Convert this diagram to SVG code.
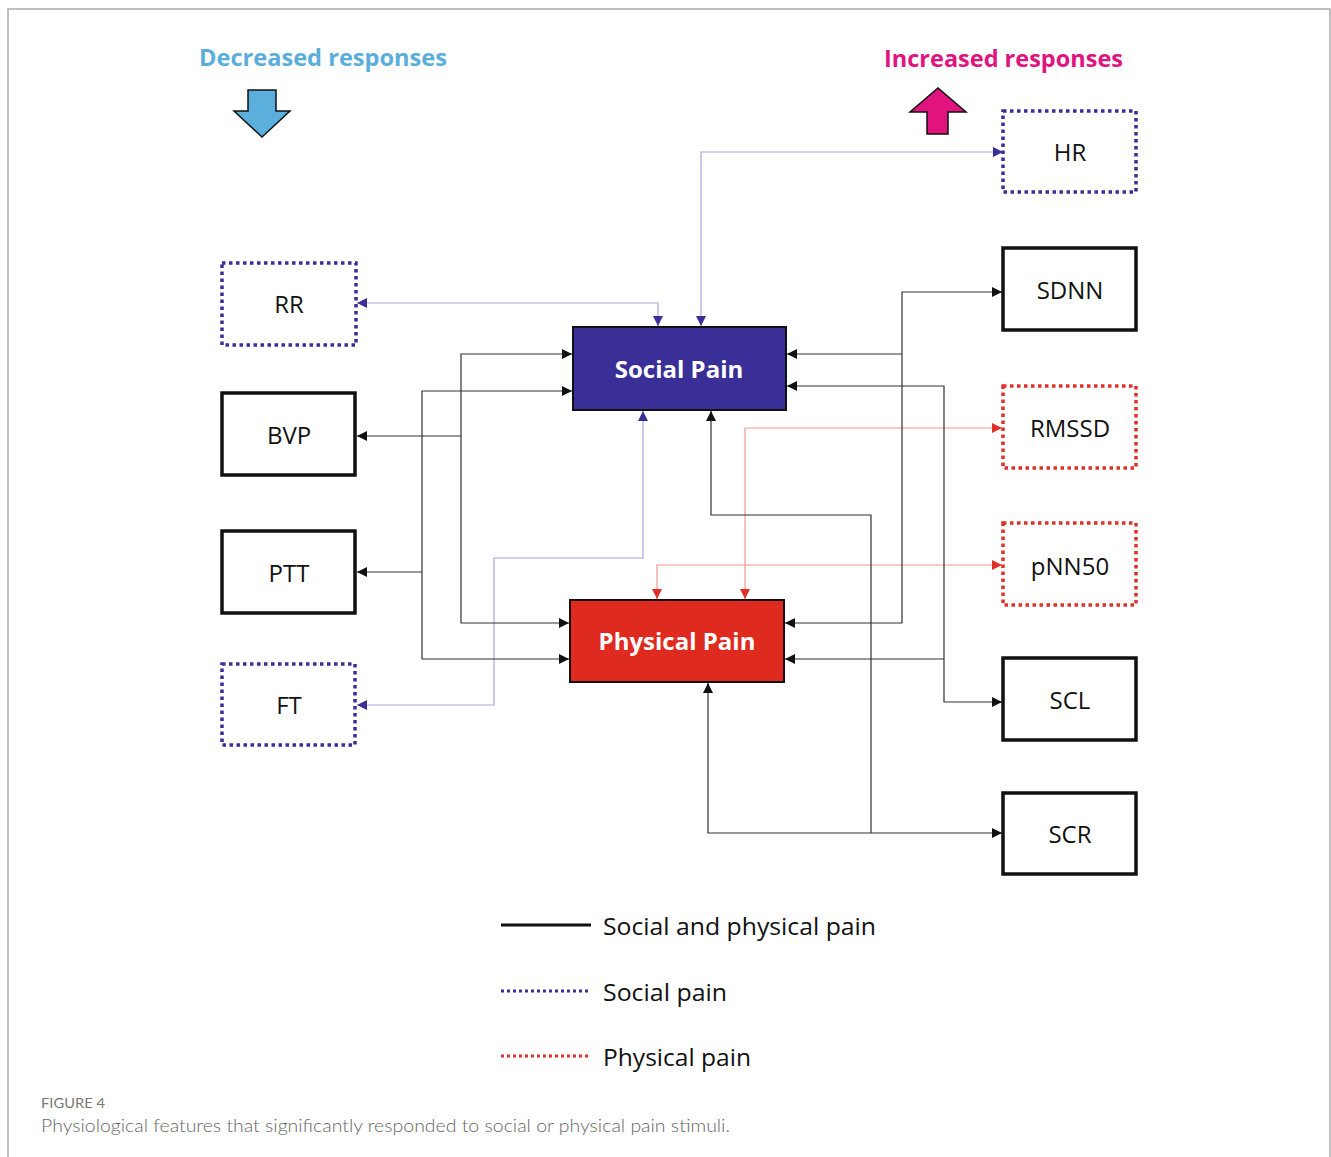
<svg xmlns="http://www.w3.org/2000/svg" width="1331" height="1157" viewBox="0 0 1331 1157">
<style>
.lbl{font-family:"Open Sans","Noto Sans",sans-serif;font-size:24px;fill:#111;text-anchor:middle}
.hub{font-family:"Open Sans","Noto Sans",sans-serif;font-size:24px;font-weight:bold;fill:#fff;text-anchor:middle}
.solid{fill:#fff;stroke:#111;stroke-width:3.5}
.dotP{fill:#fff;stroke:#3a2f96;stroke-width:3.5;stroke-dasharray:3.5 3.5}
.dotR{fill:#fff;stroke:#e0302a;stroke-width:3.5;stroke-dasharray:3.5 3.5}
.cb{fill:none;stroke:#333;stroke-width:1.2}
.cp{fill:none;stroke:#a8a3da;stroke-width:1.2}
.cr{fill:none;stroke:#f2988f;stroke-width:1.2}
.leg{font-family:"Open Sans","Noto Sans",sans-serif;font-size:24px;fill:#111}
</style>
<defs>
<marker id="ab" viewBox="0 0 10 10" refX="10" refY="5" markerWidth="10" markerHeight="10" markerUnits="userSpaceOnUse" orient="auto-start-reverse"><path d="M0,0 L10,5 L0,10 z" fill="#111"/></marker>
<marker id="ap" viewBox="0 0 10 10" refX="10" refY="5" markerWidth="10" markerHeight="10" markerUnits="userSpaceOnUse" orient="auto-start-reverse"><path d="M0,0 L10,5 L0,10 z" fill="#3a2f96"/></marker>
<marker id="ar" viewBox="0 0 10 10" refX="10" refY="5" markerWidth="10" markerHeight="10" markerUnits="userSpaceOnUse" orient="auto-start-reverse"><path d="M0,0 L10,5 L0,10 z" fill="#e0302a"/></marker>
</defs>
<rect width="1331" height="1157" fill="#fff"/>
<path d="M8,1157 V9 H1330 V1157" fill="none" stroke="#aaa" stroke-width="1.5"/>

<g id="header">
<text x="199" y="66" font-family="Open Sans, Noto Sans, sans-serif" font-size="24" font-weight="bold" fill="#5aaedc" textLength="248" lengthAdjust="spacingAndGlyphs">Decreased responses</text>
<path d="M248,90 H276 V111 H290 L262,137 L234,111 H248 Z" fill="#5aafdc" stroke="#111" stroke-width="1.5"/>
<text x="884" y="67" font-family="Open Sans, Noto Sans, sans-serif" font-size="24" font-weight="bold" fill="#e0137f" textLength="239" lengthAdjust="spacingAndGlyphs">Increased responses</text>
<path d="M927,134 H948 V112 H966 L938,88 L910,112 H927 Z" fill="#e0137f" stroke="#111" stroke-width="1.5"/>
</g>

<g id="connectors">
<path class="cp" d="M701,326 V152 H1003" marker-start="url(#ap)" marker-end="url(#ap)"/>
<path class="cp" d="M658,326 V303 H357" marker-start="url(#ap)" marker-end="url(#ap)"/>
<path class="cp" d="M643,411 V558 H494 V705 H357" marker-start="url(#ap)" marker-end="url(#ap)"/>
<path class="cr" d="M745,599 V428 H1002" marker-start="url(#ar)" marker-end="url(#ar)"/>
<path class="cr" d="M657,599 V565 H1002" marker-start="url(#ar)" marker-end="url(#ar)"/>
<path class="cb" d="M572,354 H461 V623 H569" marker-start="url(#ab)" marker-end="url(#ab)"/>
<path class="cb" d="M461,436 H357" marker-end="url(#ab)"/>
<path class="cb" d="M572,391 H422 V659 H569" marker-start="url(#ab)" marker-end="url(#ab)"/>
<path class="cb" d="M422,572 H357" marker-end="url(#ab)"/>
<path class="cb" d="M1002,292 H902 V623 H785" marker-start="url(#ab)" marker-end="url(#ab)"/>
<path class="cb" d="M902,354 H787" marker-end="url(#ab)"/>
<path class="cb" d="M787,386 H944 V702 H1002" marker-start="url(#ab)" marker-end="url(#ab)"/>
<path class="cb" d="M944,659 H785" marker-end="url(#ab)"/>
<path class="cb" d="M711,411 V515 H871 V833" marker-start="url(#ab)"/>
<path class="cb" d="M708,683 V833 H1002" marker-start="url(#ab)" marker-end="url(#ab)"/>
</g>

<g id="social-pain"><rect x="573" y="327" width="213" height="83" fill="#3a2f96" stroke="#111" stroke-width="2"/><text class="hub" x="679" y="378">Social Pain</text></g>
<g id="physical-pain"><rect x="570" y="600" width="214" height="82" fill="#df2a1f" stroke="#111" stroke-width="2"/><text class="hub" x="677" y="650">Physical Pain</text></g>

<g id="hr"><rect class="dotP" x="1003" y="111" width="133" height="81"/><text class="lbl" x="1070" y="161">HR</text></g>
<g id="sdnn"><rect class="solid" x="1003" y="248" width="133" height="82"/><text class="lbl" x="1070" y="299">SDNN</text></g>
<g id="rmssd"><rect class="dotR" x="1003" y="386" width="133" height="82"/><text class="lbl" x="1070" y="437">RMSSD</text></g>
<g id="pnn50"><rect class="dotR" x="1003" y="523" width="133" height="82"/><text class="lbl" x="1070" y="575">pNN50</text></g>
<g id="scl"><rect class="solid" x="1003" y="658" width="133" height="82"/><text class="lbl" x="1070" y="709">SCL</text></g>
<g id="scr"><rect class="solid" x="1003" y="793" width="133" height="81"/><text class="lbl" x="1070" y="843">SCR</text></g>
<g id="rr"><rect class="dotP" x="222" y="263" width="134" height="82"/><text class="lbl" x="289" y="313">RR</text></g>
<g id="bvp"><rect class="solid" x="222" y="393" width="133" height="82"/><text class="lbl" x="289" y="444">BVP</text></g>
<g id="ptt"><rect class="solid" x="222" y="531" width="133" height="82"/><text class="lbl" x="289" y="582">PTT</text></g>
<g id="ft"><rect class="dotP" x="222" y="664" width="133" height="81"/><text class="lbl" x="289" y="714">FT</text></g>

<g id="legend">
<line x1="501" y1="925" x2="591" y2="925" stroke="#111" stroke-width="3"/>
<text class="leg" x="603" y="935" textLength="273" lengthAdjust="spacingAndGlyphs">Social and physical pain</text>
<line x1="501" y1="991" x2="591" y2="991" stroke="#3a2f96" stroke-width="3" stroke-dasharray="3 3"/>
<text class="leg" x="603" y="1001" textLength="124" lengthAdjust="spacingAndGlyphs">Social pain</text>
<line x1="501" y1="1056" x2="591" y2="1056" stroke="#e0302a" stroke-width="3" stroke-dasharray="3 3"/>
<text class="leg" x="603" y="1066" textLength="148" lengthAdjust="spacingAndGlyphs">Physical pain</text>
</g>

<g id="caption">
<text x="41" y="1108" font-family="Lato, Open Sans, sans-serif" font-size="13" fill="#777" textLength="64" lengthAdjust="spacingAndGlyphs">FIGURE 4</text>
<text x="41" y="1132" font-family="Lato, Open Sans, sans-serif" font-size="17" font-weight="300" fill="#666" textLength="689" lengthAdjust="spacingAndGlyphs">Physiological features that significantly responded to social or physical pain stimuli.</text>
</g>
</svg>
